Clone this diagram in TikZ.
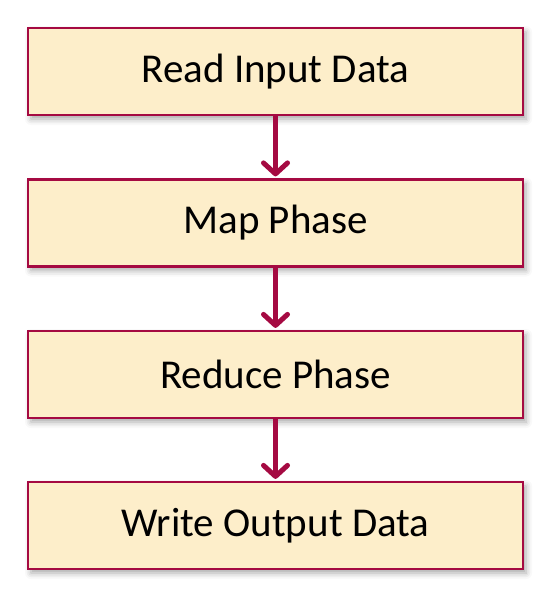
\documentclass[tikz,border=0pt]{standalone}
\usepackage{fontspec}
\setmainfont{Carlito}
\usetikzlibrary{arrows.meta,shadows.blur}
\definecolor{edge}{HTML}{A50A42}
\definecolor{boxfill}{HTML}{FDEECA}
\tikzset{
  stepbox/.style={draw=edge, line width=2.2pt, fill=boxfill, minimum width=495pt, minimum height=87pt, inner sep=0pt,
    font=\fontsize{41}{46}\selectfont,
    blur shadow={shadow xshift=3pt, shadow yshift=-4pt, shadow blur radius=6pt, shadow opacity=35}},
  flow/.style={draw=edge, line width=5pt, shorten >=2pt, -{Straight Barb[length=11pt,width=24pt,round]}}
}
\begin{document}
\begin{tikzpicture}[x=1pt,y=-1pt]
\useasboundingbox (0,0) rectangle (551,602);
\node[stepbox] (a) at (275.5,71.5) {Read Input Data};
\node[stepbox] (b) at (275.5,223) {Map Phase};
\node[stepbox] (c) at (275.5,374.5) {Reduce Phase};
\node[stepbox] (d) at (275.5,525.5) {Write Output Data};
\draw[flow] (a) -- (b);
\draw[flow] (b) -- (c);
\draw[flow] (c) -- (d);
\end{tikzpicture}
\end{document}
